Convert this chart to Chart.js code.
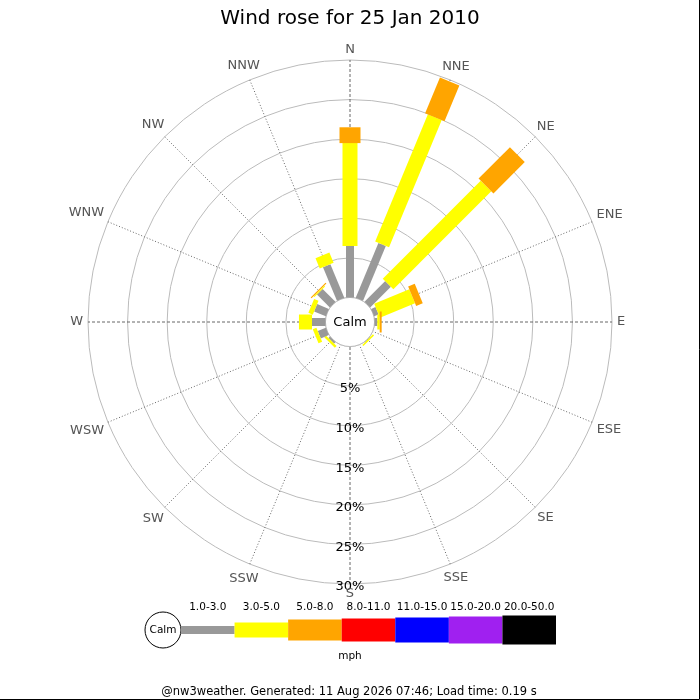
<!DOCTYPE html>
<html>
<head>
<meta charset="utf-8">
<title>Wind rose</title>
<script src="https://cdn.jsdelivr.net/npm/chart.js@4.4.1/dist/chart.umd.min.js"></script>
<style>
  html, body { margin: 0; padding: 0; background: #fff; }
  canvas { display: block; }
</style>
</head>
<body>
<canvas id="rose" width="700" height="700"></canvas>
<script>
const titleText = "Wind rose for 25 Jan 2010";
const footerText = "@nw3weather. Generated: 11 Aug 2026 07:46; Load time: 0.19 s";
const unitText = "mph";
const calmText = "Calm";

const directions = ["N", "NNE", "NE", "ENE", "E", "ESE", "SE", "SSE",
                    "S", "SSW", "SW", "WSW", "W", "WNW", "NW", "NNW"];
const speedBands = ["1.0-3.0", "3.0-5.0", "5.0-8.0", "8.0-11.0",
                    "11.0-15.0", "15.0-20.0", "20.0-50.0"];

// % of the day from each direction, one array per speed band
const band1to3   = [6.5, 7.5, 3.7, 0.6, 0.35, 0, 0.05, 0, 0, 0, 0.25, 1.1, 1.7, 1.6, 2.3, 4.6];
const band3to5   = [13.0, 17.4, 17.5, 4.8, 0.3, 0, 0.2, 0, 0, 0, 0.3, 0.5, 1.65, 0.6, 0.15, 1.4];
const band5to8   = [2.0, 4.9, 5.6, 0.9, 0.25, 0, 0, 0, 0, 0, 0, 0, 0, 0, 0.15, 0];
const band8to11  = [0, 0, 0, 0, 0, 0, 0, 0, 0, 0, 0, 0, 0, 0, 0, 0];
const band11to15 = [0, 0, 0, 0, 0, 0, 0, 0, 0, 0, 0, 0, 0, 0, 0, 0];
const band15to20 = [0, 0, 0, 0, 0, 0, 0, 0, 0, 0, 0, 0, 0, 0, 0, 0];
const band20to50 = [0, 0, 0, 0, 0, 0, 0, 0, 0, 0, 0, 0, 0, 0, 0, 0];

const ringValues = [5, 10, 15, 20, 25, 30];
const ringLabels = ["5%", "10%", "15%", "20%", "25%", "30%"];

// styling
const bandColours = ["#999999", "#ffff00", "#ffa500", "#ff0000", "#0000ff", "#a020f0", "#000000"];
const bandWidths = [8, 15, 21, 23, 25, 27, 29];
const FONT = "'DejaVu Sans', sans-serif";

const bands = [band1to3, band3to5, band5to8, band8to11, band11to15, band15to20, band20to50];

// running totals so each band sits on top of the one before
const stacked = [];
bands.forEach((b, k) => {
  stacked.push(b.map((v, i) => v + (k > 0 ? stacked[k - 1][i] : 0)));
});

function drawBar(ctx, scale, i, from, to, width, colour) {
  if (to - from <= 0) return;
  const a = scale.getPointPositionForValue(i, from);
  const b = scale.getPointPositionForValue(i, to);
  const ang = scale.getIndexAngle(i) - Math.PI / 2;
  const px = -Math.sin(ang) * width / 2;
  const py = Math.cos(ang) * width / 2;
  ctx.beginPath();
  ctx.moveTo(a.x + px, a.y + py);
  ctx.lineTo(b.x + px, b.y + py);
  ctx.lineTo(b.x - px, b.y - py);
  ctx.lineTo(a.x - px, a.y - py);
  ctx.closePath();
  ctx.fillStyle = colour;
  ctx.fill();
}

const rosePlugin = {
  id: "rose",
  beforeDatasetsDraw(chart) {
    const ctx = chart.ctx;
    const s = chart.scales.r;
    const calmR = s.getDistanceFromCenterForValue(0);
    ctx.save();
    ctx.beginPath();
    ctx.arc(s.xCenter, s.yCenter, calmR, 0, Math.PI * 2);
    ctx.fillStyle = "#fff";
    ctx.fill();
    ctx.strokeStyle = "#bbbbbb";
    ctx.lineWidth = 1;
    ctx.stroke();
    ctx.restore();
  },
  afterDatasetsDraw(chart) {
    const ctx = chart.ctx;
    const s = chart.scales.r;
    ctx.save();

    // bars
    directions.forEach((d, i) => {
      bands.forEach((b, k) => {
        const from = k > 0 ? stacked[k - 1][i] : 0;
        drawBar(ctx, s, i, from, stacked[k][i], bandWidths[k], bandColours[k]);
      });
    });

    ctx.textAlign = "center";
    ctx.textBaseline = "middle";

    // centre label
    ctx.fillStyle = "#000";
    ctx.font = "13px " + FONT;
    ctx.fillText(calmText, s.xCenter, s.yCenter + 1);

    // ring labels down the south spoke
    ringValues.forEach((v, k) => {
      ctx.fillText(ringLabels[k], s.xCenter, s.yCenter + s.getDistanceFromCenterForValue(v) + 3);
    });

    // compass labels
    ctx.fillStyle = "#555555";
    ctx.font = "13px " + FONT;
    directions.forEach((d, i) => {
      const ang = s.getIndexAngle(i);
      const w = ctx.measureText(d).width;
      const off = 5 + Math.abs(Math.sin(ang)) * w / 2 + Math.abs(Math.cos(ang)) * 5;
      const p = s.getPointPosition(i, s.drawingArea + off);
      ctx.fillText(d, p.x, p.y);
    });

    // speed legend
    const lx = 181, ly = 630, seg = 375 / speedBands.length;
    ctx.beginPath();
    ctx.arc(163, ly, 18, 0, Math.PI * 2);
    ctx.fillStyle = "#fff";
    ctx.fill();
    ctx.strokeStyle = "#000";
    ctx.lineWidth = 1;
    ctx.stroke();
    ctx.fillStyle = "#000";
    ctx.font = "10.5px " + FONT;
    ctx.fillText(calmText, 163, ly);
    speedBands.forEach((label, k) => {
      const x0 = lx + k * seg;
      ctx.fillStyle = bandColours[k];
      ctx.fillRect(x0, ly - bandWidths[k] / 2, seg, bandWidths[k]);
      ctx.fillStyle = "#000";
      ctx.fillText(label, x0 + seg / 2, 607);
    });
    ctx.fillText(unitText, 350, 656);

    // footer
    ctx.font = "11.5px " + FONT;
    ctx.fillText(footerText, 349, 692);

    // frame
    ctx.strokeStyle = "#000";
    ctx.beginPath();
    ctx.moveTo(699.5, 0);
    ctx.lineTo(699.5, 699.5);
    ctx.lineTo(0, 699.5);
    ctx.stroke();

    ctx.restore();
  }
};

new Chart(document.getElementById("rose"), {
  type: "radar",
  data: {
    labels: directions,
    datasets: speedBands.map((label, k) => ({
      label: label + " mph",
      data: stacked[k],
      fill: false,
      showLine: false,
      borderWidth: 0,
      pointRadius: 0,
      pointHoverRadius: 0,
      borderColor: "rgba(0,0,0,0)",
      backgroundColor: "rgba(0,0,0,0)"
    }))
  },
  options: {
    responsive: false,
    animation: false,
    events: [],
    layout: { padding: { left: 88, right: 88, top: 0, bottom: 116 } },
    scales: {
      r: {
        min: -3.1,
        max: 30,
        afterBuildTicks: (scale) => {
          scale.ticks = [0].concat(ringValues).map(v => ({ value: v }));
        },
        ticks: { display: false },
        pointLabels: { display: false },
        grid: { circular: true, color: "#bbbbbb", lineWidth: 1 },
        angleLines: {
          color: "#666666",
          lineWidth: 1,
          borderDash: (c) => (c.index % 4 === 0 ? [3, 2] : [1, 2])
        }
      }
    },
    plugins: {
      legend: { display: false },
      tooltip: { enabled: false },
      title: {
        display: true,
        text: titleText,
        color: "#000",
        font: { family: FONT, size: 20, weight: "normal" },
        padding: { top: 7, bottom: 29 }
      }
    }
  },
  plugins: [rosePlugin]
});
</script>
</body>
</html>
